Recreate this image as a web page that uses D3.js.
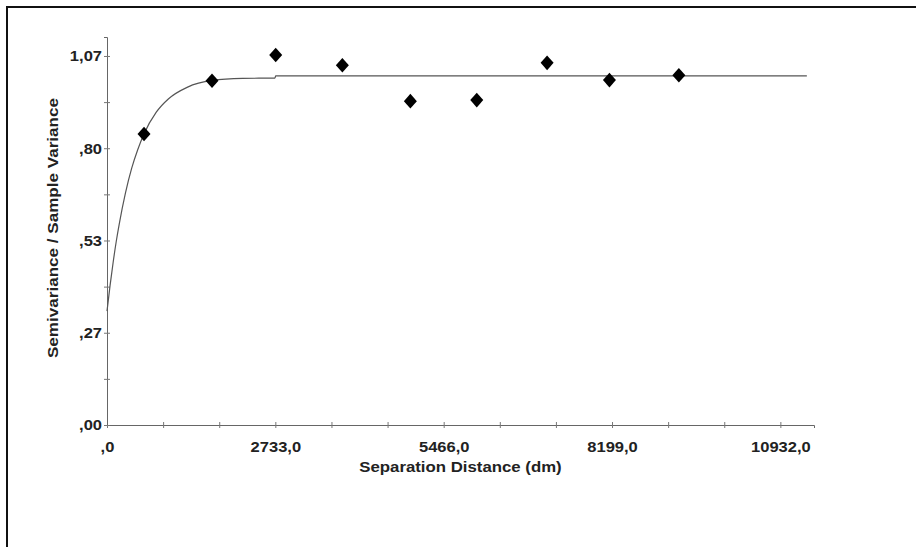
<!DOCTYPE html>
<html>
<head>
<meta charset="utf-8">
<script src="https://cdn.jsdelivr.net/npm/d3@7"></script>
<style>
  html, body { margin: 0; padding: 0; background: #fff; }
  svg { display: block; }
  text { font-family: "Liberation Sans", Arial, sans-serif; font-weight: bold; fill: #222; }
</style>
</head>
<body>
<div id="chart"></div>
<script>
// Semivariogram: sample points + fitted model line

const lagDistance = [601, 1705, 2739, 3821, 4925, 6003, 7145, 8157, 9284];
const semivariance = [0.844, 0.998, 1.073, 1.043, 0.939, 0.942, 1.050, 1.000, 1.014];

const modelDistance = [0, 50, 100, 150, 200, 300, 400, 500, 600, 800, 1000, 1300, 1700, 2200, 2725, 2740, 11362];
const modelValue = [0.33, 0.405, 0.472, 0.532, 0.584, 0.673, 0.744, 0.799, 0.844, 0.907, 0.946, 0.979, 0.999, 1.005, 1.006, 1.012, 1.012];

const xTickValues = [0, 911, 1822, 2733, 3644, 4555, 5466, 6377, 7288, 8199, 9110, 10021, 10932];
const xTickLabels = [",0", "", "", "2733,0", "", "", "5466,0", "", "", "8199,0", "", "", "10932,0"];
const yTickValues = [0, 0.13375, 0.2675, 0.40125, 0.535, 0.66875, 0.8025, 0.93625, 1.07];
const yTickLabels = [",00", "", ",27", "", ",53", "", ",80", "", "1,07"];

const xTitle = "Separation Distance (dm)";
const yTitle = "Semivariance / Sample Variance";

const W = 916, H = 547;
const svg = d3.select('#chart').append('svg')
  .attr('width', W).attr('height', H)
  .attr('viewBox', `0 0 ${W} ${H}`);

// outer frame (cut off at right/bottom edges)
svg.append('rect')
  .attr('x', 7).attr('y', 7).attr('width', W + 10).attr('height', H + 10)
  .attr('fill', 'none').attr('stroke', '#111').attr('stroke-width', 2);

const x = d3.scaleLinear().domain([0, 11478]).range([107, 814]);
const y = d3.scaleLinear().domain([0, 1.125]).range([425, 37]);

const STRETCH = 1.18;

// x axis
const xAxis = svg.append('g')
  .attr('transform', `translate(0,${y(0)})`)
  .call(d3.axisBottom(x).tickValues(xTickValues)
    .tickFormat((d, i) => xTickLabels[i]).tickSizeOuter(0).tickSize(3));
xAxis.select('.domain').attr('stroke', '#666');
xAxis.selectAll('.tick line').attr('stroke', '#777').attr('y1', -3).attr('y2', 3);
xAxis.selectAll('.tick text')
  .attr('y', 0).attr('dy', 0)
  .attr('transform', `translate(0,27) scale(${STRETCH},1)`)
  .attr('font-size', 14).attr('fill', '#222')
  .style('font-family', '"Liberation Sans", Arial, sans-serif').style('font-weight', 'bold');

// y axis
const yAxis = svg.append('g')
  .attr('transform', `translate(${x(0)},0)`)
  .call(d3.axisLeft(y).tickValues(yTickValues)
    .tickFormat((d, i) => yTickLabels[i]).tickSizeOuter(0).tickSize(3));
yAxis.select('.domain').attr('stroke', '#666');
yAxis.selectAll('.tick line').attr('stroke', '#777').attr('x1', -3).attr('x2', 3);
yAxis.selectAll('.tick text')
  .attr('x', 0).attr('dy', '0.35em')
  .attr('transform', `translate(-5,0) scale(${STRETCH},1)`)
  .attr('font-size', 14).attr('fill', '#222')
  .style('font-family', '"Liberation Sans", Arial, sans-serif').style('font-weight', 'bold');

// model line
const model = modelDistance.map((d, i) => [d, modelValue[i]]);
svg.append('path')
  .datum(model)
  .attr('fill', 'none')
  .attr('stroke', '#555')
  .attr('stroke-width', 1.2)
  .attr('d', d3.line().x(d => x(d[0])).y(d => y(d[1])).curve(d3.curveMonotoneX));

// diamond markers
const diamond = {
  draw(ctx, size) {
    const w = Math.sqrt(size) / 2, h = w * 1.12;
    ctx.moveTo(0, -h); ctx.lineTo(w, 0); ctx.lineTo(0, h); ctx.lineTo(-w, 0); ctx.closePath();
  }
};
svg.append('g').selectAll('path')
  .data(lagDistance.map((d, i) => [d, semivariance[i]]))
  .enter().append('path')
  .attr('transform', d => `translate(${x(d[0])},${y(d[1])})`)
  .attr('fill', '#000')
  .attr('d', d3.symbol().type(diamond).size(169));

// titles
svg.append('text')
  .attr('transform', `translate(${(x.range()[0] + x.range()[1]) / 2},472) scale(1.2,1)`)
  .attr('text-anchor', 'middle').attr('font-size', 14)
  .text(xTitle);

svg.append('text')
  .attr('transform', `translate(58,228) rotate(-90) scale(1.22,1)`)
  .attr('text-anchor', 'middle').attr('font-size', 14)
  .text(yTitle);
</script>
</body>
</html>
